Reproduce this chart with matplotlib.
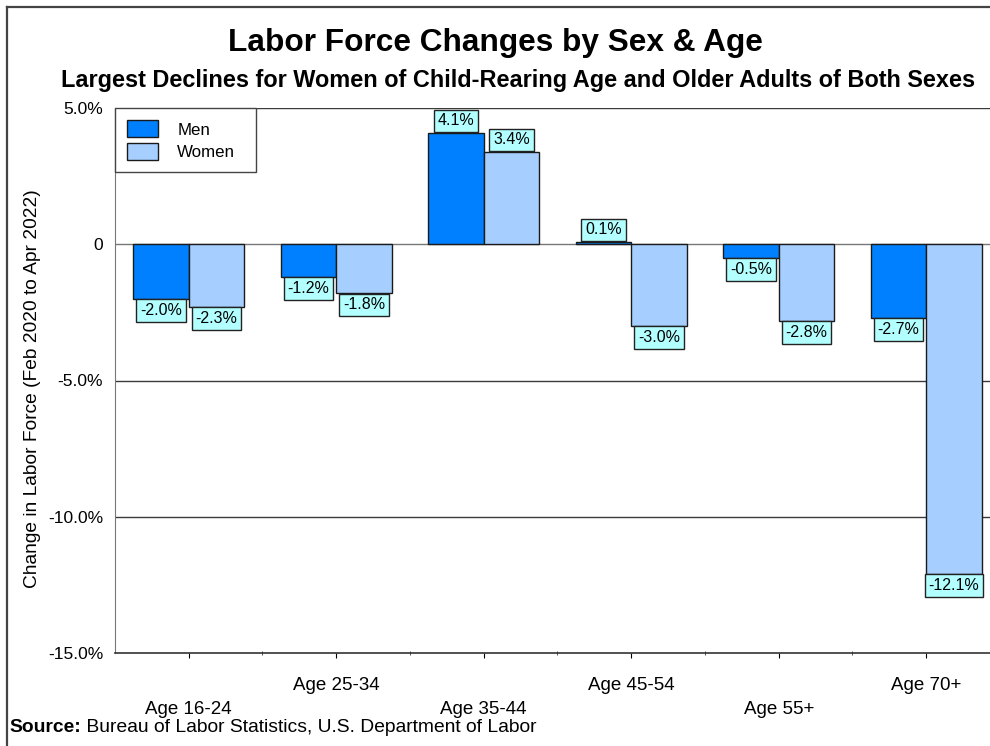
import numpy as np
import matplotlib
matplotlib.use('Agg')
from matplotlib import pyplot as plt
from matplotlib.lines import Line2D
from matplotlib.patches import Rectangle
from matplotlib.legend_handler import HandlerPatch

categories = ['Age 16-24', 'Age 25-34', 'Age 35-44', 'Age 45-54', 'Age 55+', 'Age 70+']
men = [-2.0, -1.2, 4.1, 0.1, -0.5, -2.7]
women = [-2.3, -1.8, 3.4, -3.0, -2.8, -12.1]
yticks = [5, 0, -5, -10, -15]
ytick_labels = ['5.0%', '0', '-5.0%', '-10.0%', '-15.0%']

plt.rcParams['font.family'] = ['Liberation Sans', 'DejaVu Sans']

W, H = 990, 746
fig = plt.figure(figsize=(W / 100, H / 100), dpi=100, facecolor='white')
ax = fig.add_axes([115 / W, 1 - 653 / H, (W - 115) / W, (653 - 108) / H])

x = np.arange(len(categories))
bw = 0.375
b1 = ax.bar(x - bw / 2, men, bw, color='#0080FF', edgecolor='#1a1a1a', lw=1, label='Men', zorder=3)
b2 = ax.bar(x + bw / 2, women, bw, color='#A6CFFF', edgecolor='#1a1a1a', lw=1, label='Women', zorder=3)

# value boxes
for bars, vals in ((b1, men), (b2, women)):
    for rect, v in zip(bars, vals):
        cx = rect.get_x() + rect.get_width() / 2
        off = 3 if v > 0 else -3
        ax.annotate(f'{v:.1f}%', xy=(cx, v), xytext=(0, off), textcoords='offset points',
                    ha='center', va='bottom' if v > 0 else 'top', fontsize=11.5, zorder=5,
                    bbox=dict(boxstyle='square,pad=0.24', fc='#B3FFFF', ec='#222222', lw=1))

ax.set_ylim(-15, 5)
ax.set_xlim(-0.5, 5.5 - 10 / 147.6)
ax.set_yticks(yticks)
ax.set_yticklabels(ytick_labels, fontsize=12.5)
ax.tick_params(axis='y', length=0, pad=8.5)
for v in yticks[:-1]:
    ax.axhline(v, color='#3a3a3a' if v != 0 else '#777777', lw=1, zorder=1)

for s in ('top', 'right'):
    ax.spines[s].set_visible(False)
ax.spines['left'].set_color('#777777')
ax.spines['bottom'].set_color('#333333')
ax.spines['bottom'].set_linewidth(1.2)

ax.set_xticks(x)
ax.set_xticklabels(categories, fontsize=13.5)
for i, t in enumerate(ax.xaxis.get_major_ticks()):
    if i % 2 == 0:
        t.tick1line.set_markersize(24)
        t.set_pad(31)
    else:
        t.tick1line.set_markersize(7.5)
        t.set_pad(13.5)
    t.tick1line.set_color('#666666')
ax.set_xticks(x[:-1] + 0.5, minor=True)
ax.tick_params(axis='x', which='minor', length=3, color='#333333', direction='inout')


# legend swatch, indented inside its handle box
def swatch(legend, orig_handle, xdescent, ydescent, width, height, fontsize):
    return Rectangle((-xdescent + 9, -ydescent), width - 9, height)


leg = ax.legend(loc='upper left', bbox_to_anchor=(0.0, 1.0, 0.161, 0.0), mode='expand',
                borderaxespad=0, fontsize=12.2, fancybox=False, edgecolor='#444444',
                handlelength=1.8, handleheight=1.18, handletextpad=1.15,
                labelspacing=0.3, borderpad=0.72, framealpha=1,
                handler_map={Rectangle: HandlerPatch(patch_func=swatch)})
leg.get_frame().set_linewidth(1)

fig.text(495 / W, 1 - 43 / H, 'Labor Force Changes by Sex & Age', ha='center', va='center',
         fontsize=22.8, fontweight='bold')
fig.text(518 / W, 1 - 80 / H,
         'Largest Declines for Women of Child-Rearing Age and Older Adults of Both Sexes',
         ha='center', va='center', fontsize=16.9, fontweight='bold')
fig.text(33 / W, 1 - 389 / H, 'Change in Labor Force (Feb 2020 to Apr 2022)', rotation=90,
         ha='center', va='center', fontsize=13.8)

src = fig.text(9 / W, 1 - 727 / H, 'Source:', ha='left', va='center', fontsize=13.9, fontweight='bold')
ax.annotate(' Bureau of Labor Statistics, U.S. Department of Labor', xy=(1, 0.5), xycoords=src,
            va='center', ha='left', fontsize=13.9, annotation_clip=False)

# frame lines (top and left)
fig.add_artist(Line2D([7 / W, 1], [1 - 7 / H, 1 - 7 / H], transform=fig.transFigure, color='#444444', lw=1.6))
fig.add_artist(Line2D([7 / W, 7 / W], [1 - 7 / H, 0], transform=fig.transFigure, color='#444444', lw=1.6))

fig.savefig('out.png', dpi=100, facecolor='white')
